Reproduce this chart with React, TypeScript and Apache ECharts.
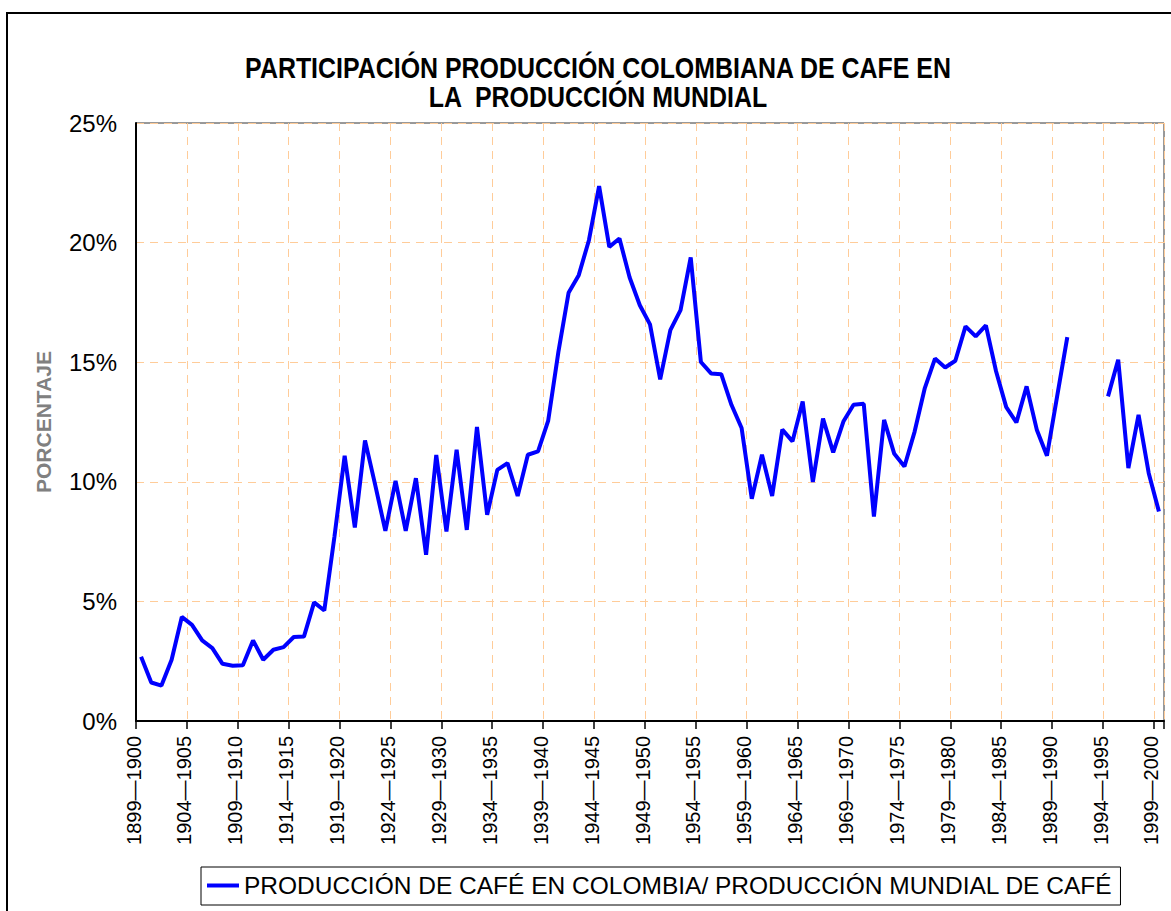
import React, { useEffect, useRef } from "react";
import * as echarts from "echarts";

const TITLE_LINES = [
  "PARTICIPACIÓN PRODUCCIÓN COLOMBIANA DE CAFE EN",
  "LA  PRODUCCIÓN MUNDIAL",
];
const SERIES_NAME = "PRODUCCIÓN DE CAFÉ EN COLOMBIA/ PRODUCCIÓN MUNDIAL DE CAFÉ";
const Y_NAME = "PORCENTAJE";

const CATEGORIES = [
  "1899-1900", "1900-1901", "1901-1902", "1902-1903", "1903-1904",
  "1904-1905", "1905-1906", "1906-1907", "1907-1908", "1908-1909",
  "1909-1910", "1910-1911", "1911-1912", "1912-1913", "1913-1914",
  "1914-1915", "1915-1916", "1916-1917", "1917-1918", "1918-1919",
  "1919-1920", "1920-1921", "1921-1922", "1922-1923", "1923-1924",
  "1924-1925", "1925-1926", "1926-1927", "1927-1928", "1928-1929",
  "1929-1930", "1930-1931", "1931-1932", "1932-1933", "1933-1934",
  "1934-1935", "1935-1936", "1936-1937", "1937-1938", "1938-1939",
  "1939-1940", "1940-1941", "1941-1942", "1942-1943", "1943-1944",
  "1944-1945", "1945-1946", "1946-1947", "1947-1948", "1948-1949",
  "1949-1950", "1950-1951", "1951-1952", "1952-1953", "1953-1954",
  "1954-1955", "1955-1956", "1956-1957", "1957-1958", "1958-1959",
  "1959-1960", "1960-1961", "1961-1962", "1962-1963", "1963-1964",
  "1964-1965", "1965-1966", "1966-1967", "1967-1968", "1968-1969",
  "1969-1970", "1970-1971", "1971-1972", "1972-1973", "1973-1974",
  "1974-1975", "1975-1976", "1976-1977", "1977-1978", "1978-1979",
  "1979-1980", "1980-1981", "1981-1982", "1982-1983", "1983-1984",
  "1984-1985", "1985-1986", "1986-1987", "1987-1988", "1988-1989",
  "1989-1990", "1990-1991", "1991-1992", "1992-1993", "1993-1994",
  "1994-1995", "1995-1996", "1996-1997", "1997-1998", "1998-1999",
  "1999-2000",
];

// percentage share, null = no data
const SHARE = [
  2.69, 1.61, 1.48, 2.56, 4.35, 4.02, 3.37, 3.05, 2.39, 2.31,
  2.33, 3.37, 2.56, 2.98, 3.09, 3.51, 3.53, 4.96, 4.62, 7.71,
  11.09, 8.09, 11.73, 9.87, 7.95, 10.04, 7.95, 10.15, 6.95, 11.12,
  7.92, 11.34, 7.99, 12.29, 8.62, 10.5, 10.78, 9.41, 11.13, 11.27,
  12.56, 15.43, 17.9, 18.64, 20.1, 22.36, 19.82, 20.17, 18.54, 17.38,
  16.58, 14.28, 16.34, 17.18, 19.38, 15.01, 14.53, 14.5, 13.22, 12.25,
  9.29, 11.13, 9.41, 12.18, 11.69, 13.36, 9.99, 12.64, 11.23, 12.52,
  13.22, 13.26, 8.55, 12.59, 11.17, 10.64, 12.1, 13.92, 15.15, 14.78,
  15.06, 16.5, 16.08, 16.54, 14.62, 13.12, 12.48, 13.99, 12.18, 11.09,
  13.57, 16.05, null, null, null, 13.57, 15.1, 10.57, 12.8, 10.36,
  8.76,
];

const Y_MIN = 0;
const Y_MAX = 25;
const Y_STEP = 5;

const SANS = "'Liberation Sans', Arial, sans-serif";

export default function App() {
  const ref = useRef<HTMLDivElement>(null);

  useEffect(() => {
    if (!ref.current) return;
    const chart = echarts.init(ref.current, undefined, { renderer: "svg" });
    const grid = "#ffcc99";
    chart.setOption({
      animation: false,
      backgroundColor: "#ffffff",
      legend: {
        show: true,
        left: 201,
        top: 867,
        icon: "rect",
        itemWidth: 32,
        itemHeight: 4,
        padding: [6, 8, 7, 6],
        borderColor: "#000",
        borderWidth: 1,
        backgroundColor: "#fff",
        textStyle: { fontFamily: SANS, fontSize: 24.5, color: "#000" },
        data: [SERIES_NAME],
      },
      graphic: [
        {
          type: "rect",
          z: -10,
          silent: true,
          shape: { x: 7, y: 13, width: 1300, height: 1100 },
          style: { fill: "none", stroke: "#000", lineWidth: 2 },
        },
        {
          type: "text",
          x: 598,
          y: 54,
          scaleX: 0.86,
          silent: true,
          style: {
            text: TITLE_LINES.join("\n"),
            align: "center",
            verticalAlign: "top",
            fontFamily: SANS,
            fontWeight: "bold",
            fontSize: 29,
            lineHeight: 29,
            fill: "#000",
          },
        },
      ],
      grid: {
        left: 136,
        right: 7,
        top: 123,
        bottom: 190,
        show: true,
        borderColor: "#333",
        borderWidth: 1,
        backgroundColor: "transparent",
        containLabel: false,
        outerBoundsMode: "none",
      },
      xAxis: {
        type: "category",
        data: CATEGORIES,
        boundaryGap: true,
        axisLine: { show: true, lineStyle: { color: "#000", width: 2 } },
        axisTick: {
          show: true,
          interval: 4,
          length: 8,
          alignWithLabel: false,
          lineStyle: { color: "#000", width: 1.5 },
        },
        axisLabel: {
          show: true,
          interval: 4,
          rotate: 90,
          margin: 15,
          verticalAlign: "bottom",
          lineHeight: 15,
          fontFamily: SANS,
          fontSize: 20,
          color: "#000",
          formatter: (v: string) => v.replace("-", "—"),
        },
        splitLine: {
          show: true,
          interval: 4,
          lineStyle: { color: grid, width: 1, type: [8, 6] },
        },
      },
      yAxis: {
        type: "value",
        min: Y_MIN,
        max: Y_MAX,
        interval: Y_STEP,
        name: Y_NAME,
        nameLocation: "middle",
        nameRotate: 90,
        nameGap: 82,
        nameTextStyle: {
          fontFamily: SANS,
          fontWeight: "bold",
          fontSize: 21,
          color: "#808080",
        },
        axisLine: { show: true, lineStyle: { color: "#000", width: 2 } },
        axisTick: { show: false },
        axisLabel: {
          show: true,
          margin: 19,
          fontFamily: SANS,
          fontSize: 24,
          color: "#000",
          formatter: "{value}%",
        },
        splitLine: {
          show: true,
          lineStyle: { color: grid, width: 1, type: [8, 6] },
        },
      },
      series: [
        {
          name: SERIES_NAME,
          type: "line",
          data: SHARE,
          symbol: "none",
          connectNulls: false,
          color: "#0000ff",
          lineStyle: { color: "#0000ff", width: 4 },
          itemStyle: { color: "#0000ff" },
        },
      ],
    });
    return () => chart.dispose();
  }, []);

  return (
    <div
      ref={ref}
      style={{
        position: "fixed",
        left: 0,
        top: 0,
        width: 1171,
        height: 911,
        background: "#fff",
      }}
    />
  );
}
